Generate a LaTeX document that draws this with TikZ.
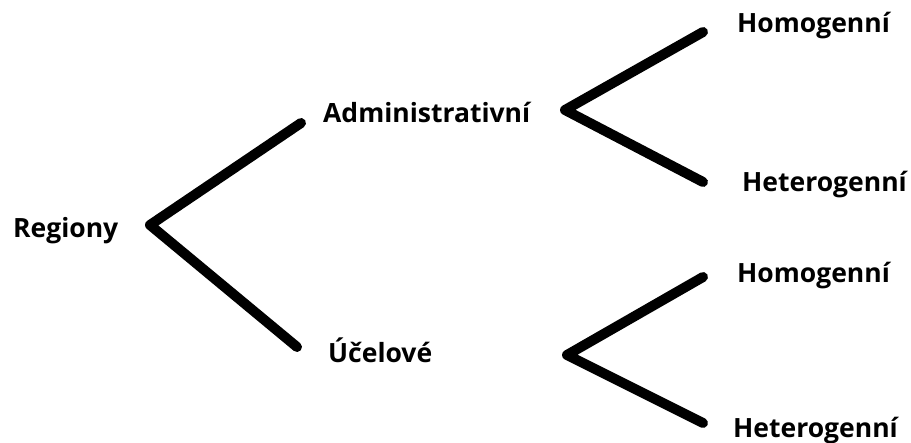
\documentclass[tikz,border=0pt]{standalone}
\usepackage{fontspec}
\setmainfont{Open Sans}
\usetikzlibrary{positioning}

\begin{document}
\begin{tikzpicture}[
  x=1pt,y=-1pt,
  font=\fontsize{26.5}{30}\selectfont\bfseries,
  lbl/.style={anchor=base west,inner sep=0pt},
  branch/.style={line width=10pt,line cap=round,line join=round},
]
\useasboundingbox (0,0) rectangle (911,443);

% labels
\node[lbl] (regiony) at (13,238) {Regiony};
\node[lbl] (admin) at (323,123) {Administrativní};
\node[lbl] (ucel) at (328,363) {Účelové};
\node[lbl] (hom1) at (737,33) {Homogenní};
\node[lbl] (het1) at (742,192) {Heterogenní};
\node[lbl] (hom2) at (737,283) {Homogenní};
\node[lbl] (het2) at (733,438) {Heterogenní};

% fork points
\coordinate (r0) at (150,225);
\coordinate (r1) at (301,123);
\coordinate (r2) at (297,347);
\coordinate (a0) at (565,110);
\coordinate (a1) at (703,32);
\coordinate (a2) at (703,182);
\coordinate (u0) at (567,355);
\coordinate (u1) at (703,277);
\coordinate (u2) at (703,423);

% branches
\draw[branch] (r1) -- (r0) -- (r2);
\draw[branch] (a1) -- (a0) -- (a2);
\draw[branch] (u1) -- (u0) -- (u2);
\end{tikzpicture}
\end{document}
